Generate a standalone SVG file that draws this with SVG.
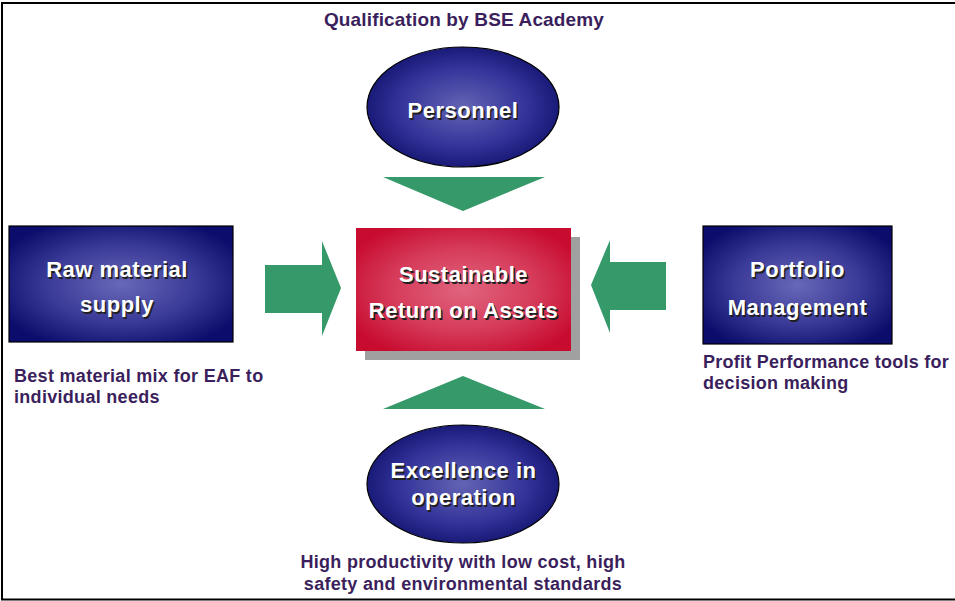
<svg xmlns="http://www.w3.org/2000/svg" width="955" height="601" viewBox="0 0 955 601">
<style>
.lbl{font-family:"Liberation Sans",Arial,sans-serif;font-weight:bold;font-size:22px;fill:#ffffff;text-anchor:middle;letter-spacing:0.5px}
.sh{font-family:"Liberation Sans",Arial,sans-serif;font-weight:bold;font-size:22px;fill:#202020;text-anchor:middle;letter-spacing:0.5px}
.note{font-family:"Liberation Sans",Arial,sans-serif;font-weight:bold;font-size:18px;fill:#3b1f5c;letter-spacing:0.3px}
.arrow{fill:#35996a}
.blue{stroke:#000;stroke-width:1.2}
</style>
<defs>
<radialGradient id="gb" cx="50%" cy="50%" r="60%">
<stop offset="0" stop-color="#6868b8"/>
<stop offset="0.55" stop-color="#3a3a98"/>
<stop offset="1" stop-color="#0c0c6c"/>
</radialGradient>
<radialGradient id="ge" cx="50%" cy="50%" r="55%">
<stop offset="0" stop-color="#6464b4"/>
<stop offset="0.6" stop-color="#33339a"/>
<stop offset="1" stop-color="#12126e"/>
</radialGradient>
<radialGradient id="gr" cx="50%" cy="50%" r="60%">
<stop offset="0" stop-color="#e0647e"/>
<stop offset="0.55" stop-color="#d63c5a"/>
<stop offset="1" stop-color="#c80c30"/>
</radialGradient>
</defs>
<rect width="955" height="601" fill="#fff"/>
<path d="M2,600 V3 H955 M1,599.5 H955" fill="none" stroke="#000" stroke-width="2"/>

<g id="connectors">
<polygon class="arrow" points="383,177 545,177 463,211"/>
<polygon class="arrow" points="265,265 322,265 322,241 341,288 322,336 322,313 265,313"/>
<polygon class="arrow" points="666,262 610,262 610,240 591,285 610,333 610,310 666,310"/>
<polygon class="arrow" points="463,376 545,409 383,409"/>
</g>

<g id="title">
<text class="note" x="464" y="26" text-anchor="middle" style="font-size:19px;letter-spacing:0.15px">Qualification by BSE Academy</text>
</g>

<g id="personnel">
<ellipse class="blue" cx="463" cy="107" rx="96" ry="60" fill="url(#ge)"/>
<text class="sh" x="464.5" y="119.5">Personnel</text>
<text class="lbl" x="463" y="118">Personnel</text>
</g>

<g id="raw-material">
<rect class="blue" x="9" y="226" width="224" height="116" fill="url(#gb)"/>
<text class="sh" x="118.5" y="278.5">Raw material</text>
<text class="lbl" x="117" y="277">Raw material</text>
<text class="sh" x="118.5" y="313.5">supply</text>
<text class="lbl" x="117" y="312">supply</text>
<text class="note" x="14" y="382">Best material mix for EAF to</text>
<text class="note" x="14" y="403">individual needs</text>
</g>

<g id="sustainable">
<rect x="365" y="237" width="215" height="123" fill="#a0a0a0"/>
<rect x="356" y="228" width="215" height="123" fill="url(#gr)"/>
<text class="sh" x="465" y="283.5">Sustainable</text>
<text class="lbl" x="463.5" y="282">Sustainable</text>
<text class="sh" x="465" y="319.5">Return on Assets</text>
<text class="lbl" x="463.5" y="318">Return on Assets</text>
</g>

<g id="portfolio">
<rect class="blue" x="703" y="226" width="189" height="118" fill="url(#gb)"/>
<text class="sh" x="799" y="278.5">Portfolio</text>
<text class="lbl" x="797.5" y="277">Portfolio</text>
<text class="sh" x="799" y="316.5">Management</text>
<text class="lbl" x="797.5" y="315">Management</text>
<text class="note" x="703" y="368" textLength="246" lengthAdjust="spacing">Profit Performance tools for</text>
<text class="note" x="703" y="389">decision making</text>
</g>

<g id="excellence">
<ellipse class="blue" cx="463" cy="484" rx="96" ry="59" fill="url(#ge)"/>
<text class="sh" x="465" y="479.5">Excellence in</text>
<text class="lbl" x="463.5" y="478">Excellence in</text>
<text class="sh" x="465" y="506.5">operation</text>
<text class="lbl" x="463.5" y="505">operation</text>
<text class="note" x="463" y="568" text-anchor="middle">High productivity with low cost, high</text>
<text class="note" x="463" y="590" text-anchor="middle">safety and environmental standards</text>
</g>
</svg>
